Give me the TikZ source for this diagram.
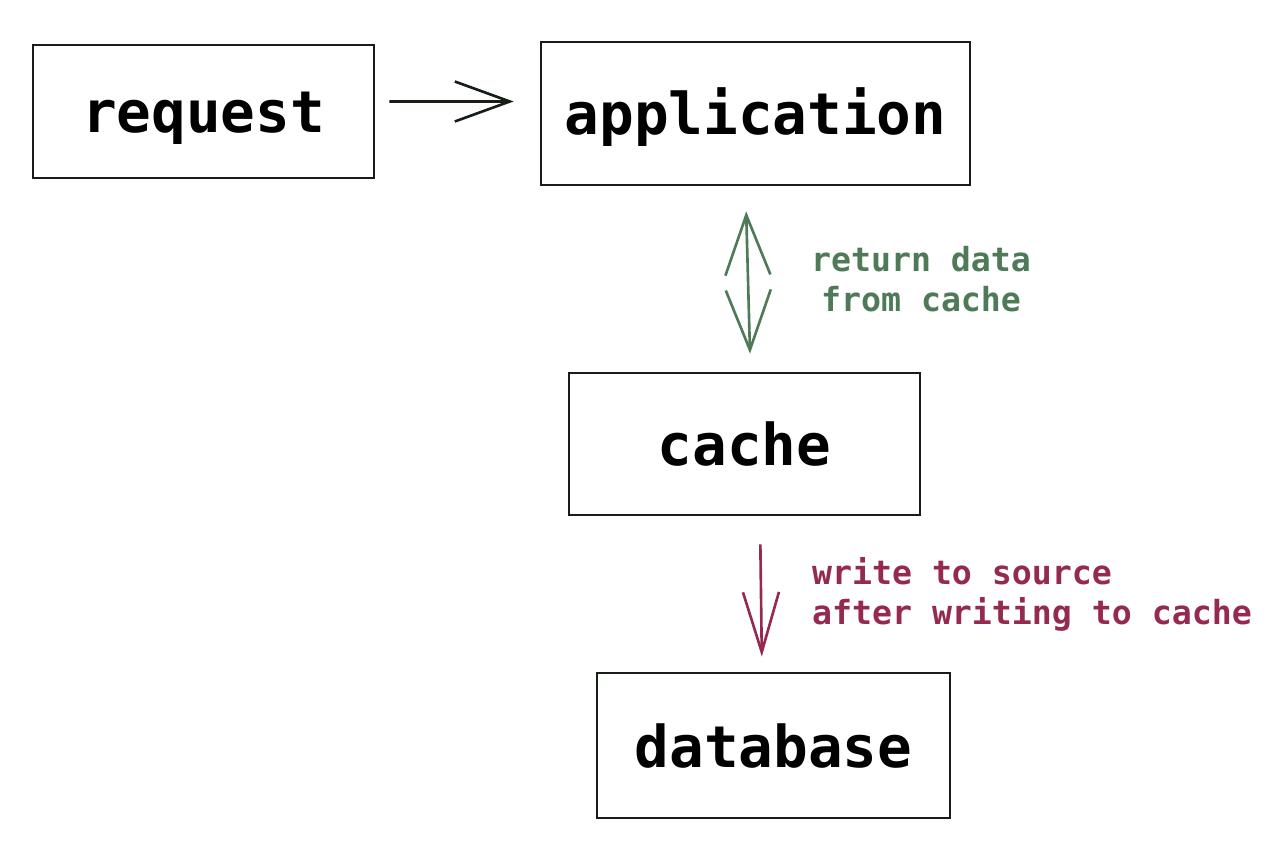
\documentclass[tikz,border=0pt]{standalone}
\usepackage{fontspec}
\setmonofont{DejaVu Sans Mono}
\usetikzlibrary{arrows.meta}

\definecolor{inkgreen}{RGB}{78,122,88}
\definecolor{inkred}{RGB}{148,42,80}
\definecolor{ink}{RGB}{22,30,22}

\begin{document}
\begin{tikzpicture}[>={Straight Barb[length=5.5mm,width=4mm]},
  box/.style={draw=ink,line width=0.75pt,inner sep=0pt,
    text height=0.43cm,text depth=0pt,
    font=\ttfamily\bfseries\fontsize{16.4pt}{20pt}\selectfont},
  note/.style={font=\ttfamily\bfseries\fontsize{9.45pt}{11.4pt}\selectfont}]
  \useasboundingbox (0,0) rectangle (12.78,8.48);

  % boxes
  \node[box,minimum width=3.41cm,minimum height=1.33cm] (request) at (2.035,7.365) {request};
  \node[box,minimum width=4.29cm,minimum height=1.43cm] (application) at (7.555,7.345) {application};
  \node[box,minimum width=3.51cm,minimum height=1.42cm] (cache) at (7.445,4.04) {cache};
  \node[box,minimum width=3.53cm,minimum height=1.45cm] (database) at (7.735,1.025) {database};

  % request to application
  \draw[->,ink,line width=0.75pt,shorten <=0.14cm,shorten >=0.26cm]
    ([yshift=1mm]request.east) -- ([yshift=1.2mm]application.west);

  % cache read: both ways
  \draw[<->,inkgreen,line width=0.75pt,
    >={Straight Barb[length=6mm,width=4.5mm]},shorten <=0.25cm,shorten >=0.18cm]
    ([xshift=-1mm]application.south) -- ([xshift=0.6mm]cache.north)
    node[note,inkgreen,midway,right=0.5cm,align=center] {return data\\from cache};

  % write through
  \draw[->,inkred,line width=0.75pt,
    >={Straight Barb[length=6mm,width=3.6mm]},shorten <=0.28cm,shorten >=0.15cm]
    ([xshift=1.55mm]cache.south) -- ([xshift=-1.15mm]database.north)
    node[note,inkred,midway,right=0.38cm,align=left] {write to source\\after writing to cache};
\end{tikzpicture}
\end{document}
